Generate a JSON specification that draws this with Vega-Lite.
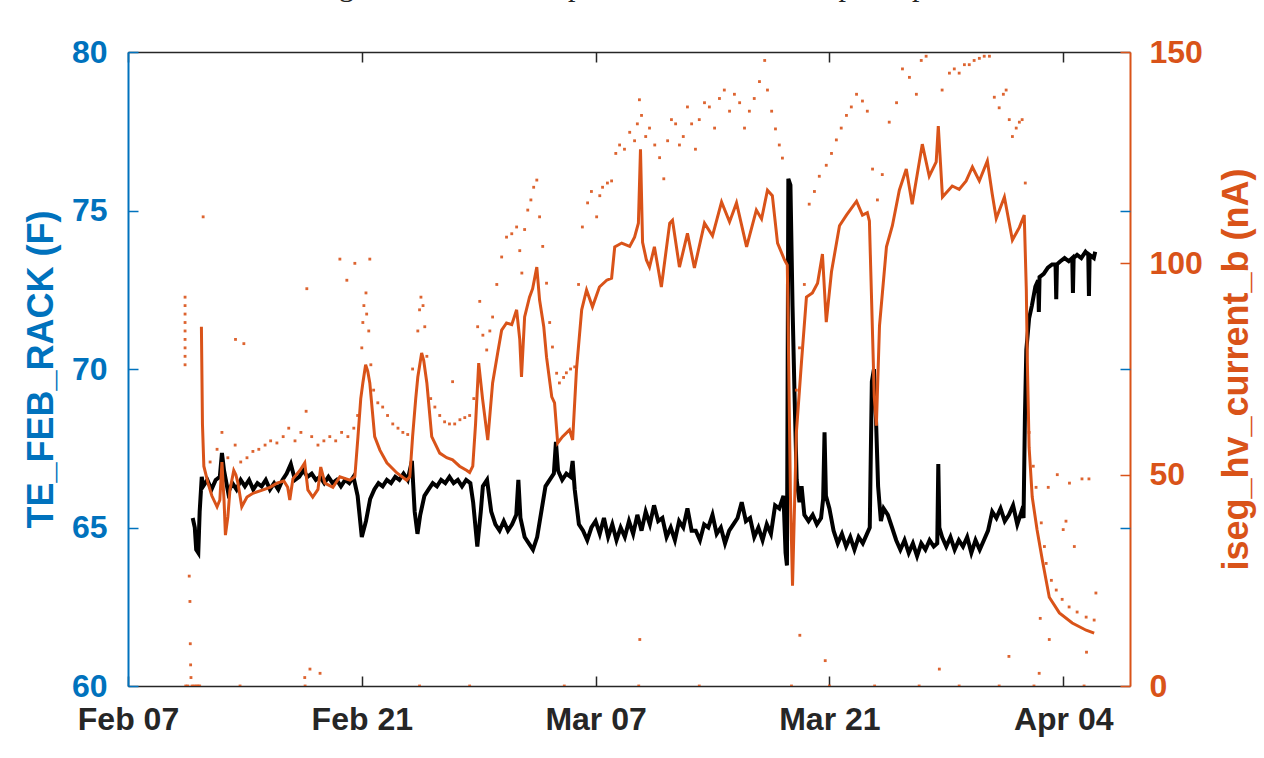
{
"$schema": "https://vega.github.io/schema/vega-lite/v6.json",
"width": 1002,
"height": 634,
"autosize": "none",
"padding": {"left": 128, "top": 52, "right": 134, "bottom": 72},
"background": "white",
"title": {"text": "Figure 1.5: FEB Temperature and Current up to April 5", "font": "Liberation Serif", "fontSize": 30, "fontWeight": "normal", "color": "#222222", "anchor": "middle", "frame": "group", "offset": 10, "baseline": "alphabetic", "dx": 16},
"config": {
  "view": {"stroke": null},
  "axis": {"labelFont": "Liberation Sans", "titleFont": "Liberation Sans", "labelFontSize": 32, "labelFontWeight": "bold", "titleFontSize": 36, "titleFontWeight": "bold", "grid": false, "domainWidth": 1.5, "tickWidth": 1.5, "zindex": 1, "labelFlush": false, "labelOverlap": false, "labelBound": false}
},
"datasets": {
"temp": [
{"t":"2022-02-10T21:00","v":65.3},{"t":"2022-02-11T00:00","v":65.0},{"t":"2022-02-11T02:00","v":64.3},{"t":"2022-02-11T05:00","v":64.2},{"t":"2022-02-11T07:00","v":65.5},{"t":"2022-02-11T10:00","v":66.6},{"t":"2022-02-11T12:00","v":66.3},{"t":"2022-02-11T18:00","v":66.5},
{"t":"2022-02-12T00:00","v":66.2},{"t":"2022-02-12T06:00","v":66.5},{"t":"2022-02-12T12:00","v":66.6},{"t":"2022-02-12T15:00","v":67.35},{"t":"2022-02-12T18:00","v":66.8},
{"t":"2022-02-13T00:00","v":66.1},{"t":"2022-02-13T06:00","v":66.4},{"t":"2022-02-13T12:00","v":66.2},{"t":"2022-02-13T18:00","v":66.5},
{"t":"2022-02-14T00:00","v":66.3},{"t":"2022-02-14T06:00","v":66.5},{"t":"2022-02-14T12:00","v":66.2},{"t":"2022-02-14T18:00","v":66.4},
{"t":"2022-02-15T00:00","v":66.3},{"t":"2022-02-15T06:00","v":66.5},{"t":"2022-02-15T12:00","v":66.2},{"t":"2022-02-15T18:00","v":66.4},
{"t":"2022-02-16T00:00","v":66.2},{"t":"2022-02-16T06:00","v":66.5},{"t":"2022-02-16T12:00","v":66.7},{"t":"2022-02-16T18:00","v":67.0},
{"t":"2022-02-17T00:00","v":66.5},{"t":"2022-02-17T06:00","v":66.6},{"t":"2022-02-17T12:00","v":66.8},{"t":"2022-02-17T18:00","v":66.6},
{"t":"2022-02-18T00:00","v":66.7},{"t":"2022-02-18T06:00","v":66.5},{"t":"2022-02-18T12:00","v":66.6},{"t":"2022-02-18T18:00","v":66.4},
{"t":"2022-02-19T00:00","v":66.6},{"t":"2022-02-19T06:00","v":66.4},{"t":"2022-02-19T12:00","v":66.5},{"t":"2022-02-19T18:00","v":66.3},
{"t":"2022-02-20T00:00","v":66.5},{"t":"2022-02-20T06:00","v":66.4},{"t":"2022-02-20T12:00","v":66.6},{"t":"2022-02-20T18:00","v":66.0},
{"t":"2022-02-21T00:00","v":64.7},{"t":"2022-02-21T06:00","v":65.2},{"t":"2022-02-21T12:00","v":65.9},{"t":"2022-02-21T18:00","v":66.2},
{"t":"2022-02-22T00:00","v":66.4},{"t":"2022-02-22T06:00","v":66.3},{"t":"2022-02-22T12:00","v":66.5},{"t":"2022-02-22T18:00","v":66.4},
{"t":"2022-02-23T00:00","v":66.6},{"t":"2022-02-23T06:00","v":66.5},{"t":"2022-02-23T12:00","v":66.7},{"t":"2022-02-23T18:00","v":66.5},
{"t":"2022-02-24T00:00","v":67.1},{"t":"2022-02-24T04:00","v":65.5},{"t":"2022-02-24T08:00","v":64.8},{"t":"2022-02-24T12:00","v":65.4},{"t":"2022-02-24T18:00","v":66.0},
{"t":"2022-02-25T00:00","v":66.2},{"t":"2022-02-25T06:00","v":66.4},{"t":"2022-02-25T12:00","v":66.3},{"t":"2022-02-25T18:00","v":66.5},
{"t":"2022-02-26T00:00","v":66.4},{"t":"2022-02-26T06:00","v":66.6},{"t":"2022-02-26T12:00","v":66.4},{"t":"2022-02-26T18:00","v":66.5},
{"t":"2022-02-27T00:00","v":66.3},{"t":"2022-02-27T06:00","v":66.5},{"t":"2022-02-27T12:00","v":66.4},{"t":"2022-02-27T16:00","v":65.8},{"t":"2022-02-27T22:00","v":64.4},
{"t":"2022-02-28T03:00","v":65.5},{"t":"2022-02-28T06:00","v":66.3},{"t":"2022-02-28T12:00","v":66.5},{"t":"2022-02-28T18:00","v":65.5},
{"t":"2022-03-01T00:00","v":65.1},{"t":"2022-03-01T06:00","v":64.9},{"t":"2022-03-01T12:00","v":65.2},{"t":"2022-03-01T18:00","v":64.9},
{"t":"2022-03-02T00:00","v":65.1},{"t":"2022-03-02T06:00","v":65.4},{"t":"2022-03-02T09:00","v":66.5},{"t":"2022-03-02T12:00","v":65.3},{"t":"2022-03-02T18:00","v":64.7},
{"t":"2022-03-03T00:00","v":64.5},{"t":"2022-03-03T06:00","v":64.3},{"t":"2022-03-03T12:00","v":64.7},{"t":"2022-03-03T18:00","v":65.5},
{"t":"2022-03-04T00:00","v":66.3},{"t":"2022-03-04T06:00","v":66.5},{"t":"2022-03-04T12:00","v":66.7},{"t":"2022-03-04T15:00","v":67.7},{"t":"2022-03-04T18:00","v":66.8},
{"t":"2022-03-05T00:00","v":66.5},{"t":"2022-03-05T06:00","v":66.7},{"t":"2022-03-05T12:00","v":66.6},{"t":"2022-03-05T15:00","v":67.1},{"t":"2022-03-05T18:00","v":66.2},
{"t":"2022-03-06T00:00","v":65.1},{"t":"2022-03-06T06:00","v":64.9},{"t":"2022-03-06T12:00","v":64.6},{"t":"2022-03-06T18:00","v":65.0},
{"t":"2022-03-07T00:00","v":65.2},{"t":"2022-03-07T06:00","v":64.8},{"t":"2022-03-07T12:00","v":65.3},{"t":"2022-03-07T18:00","v":64.7},
{"t":"2022-03-08T00:00","v":65.1},{"t":"2022-03-08T06:00","v":64.6},{"t":"2022-03-08T12:00","v":65.0},{"t":"2022-03-08T18:00","v":64.7},
{"t":"2022-03-09T00:00","v":65.2},{"t":"2022-03-09T06:00","v":64.8},{"t":"2022-03-09T12:00","v":65.4},{"t":"2022-03-09T18:00","v":64.9},
{"t":"2022-03-10T00:00","v":65.5},{"t":"2022-03-10T06:00","v":65.1},{"t":"2022-03-10T12:00","v":65.7},{"t":"2022-03-10T18:00","v":65.2},
{"t":"2022-03-11T00:00","v":65.3},{"t":"2022-03-11T06:00","v":64.7},{"t":"2022-03-11T12:00","v":65.0},{"t":"2022-03-11T18:00","v":64.6},
{"t":"2022-03-12T00:00","v":65.2},{"t":"2022-03-12T06:00","v":65.0},{"t":"2022-03-12T12:00","v":65.6},{"t":"2022-03-12T18:00","v":64.9},
{"t":"2022-03-13T00:00","v":64.9},{"t":"2022-03-13T06:00","v":64.6},{"t":"2022-03-13T12:00","v":65.1},{"t":"2022-03-13T18:00","v":65.0},
{"t":"2022-03-14T00:00","v":65.4},{"t":"2022-03-14T06:00","v":64.8},{"t":"2022-03-14T12:00","v":65.0},{"t":"2022-03-14T18:00","v":64.5},
{"t":"2022-03-15T00:00","v":64.9},{"t":"2022-03-15T06:00","v":65.1},{"t":"2022-03-15T12:00","v":65.3},{"t":"2022-03-15T18:00","v":65.8},
{"t":"2022-03-16T00:00","v":65.2},{"t":"2022-03-16T06:00","v":65.3},{"t":"2022-03-16T12:00","v":64.7},{"t":"2022-03-16T18:00","v":65.0},
{"t":"2022-03-17T00:00","v":64.6},{"t":"2022-03-17T06:00","v":65.1},{"t":"2022-03-17T12:00","v":64.8},{"t":"2022-03-17T18:00","v":65.7},
{"t":"2022-03-18T00:00","v":65.6},{"t":"2022-03-18T06:00","v":66.0},{"t":"2022-03-18T09:00","v":64.2},{"t":"2022-03-18T11:00","v":63.8},{"t":"2022-03-18T13:00","v":76.0},{"t":"2022-03-18T16:00","v":75.8},{"t":"2022-03-18T19:00","v":72.0},{"t":"2022-03-18T22:00","v":69.1},
{"t":"2022-03-19T01:00","v":66.5},{"t":"2022-03-19T05:00","v":65.8},{"t":"2022-03-19T08:00","v":66.3},{"t":"2022-03-19T12:00","v":65.4},{"t":"2022-03-19T18:00","v":65.2},
{"t":"2022-03-20T00:00","v":65.4},{"t":"2022-03-20T06:00","v":65.1},{"t":"2022-03-20T12:00","v":65.3},{"t":"2022-03-20T15:00","v":65.9},{"t":"2022-03-20T17:00","v":68.0},{"t":"2022-03-20T19:00","v":66.0},
{"t":"2022-03-21T00:00","v":65.6},{"t":"2022-03-21T06:00","v":64.9},{"t":"2022-03-21T12:00","v":64.5},{"t":"2022-03-21T18:00","v":64.8},
{"t":"2022-03-22T00:00","v":64.4},{"t":"2022-03-22T06:00","v":64.7},{"t":"2022-03-22T12:00","v":64.3},{"t":"2022-03-22T18:00","v":64.7},
{"t":"2022-03-23T00:00","v":64.5},{"t":"2022-03-23T06:00","v":64.8},{"t":"2022-03-23T10:00","v":65.0},{"t":"2022-03-23T13:00","v":69.6},{"t":"2022-03-23T16:00","v":70.0},{"t":"2022-03-23T19:00","v":68.4},{"t":"2022-03-23T22:00","v":66.3},
{"t":"2022-03-24T02:00","v":65.2},{"t":"2022-03-24T06:00","v":65.6},{"t":"2022-03-24T12:00","v":65.4},{"t":"2022-03-24T18:00","v":65.0},
{"t":"2022-03-25T00:00","v":64.6},{"t":"2022-03-25T06:00","v":64.3},{"t":"2022-03-25T12:00","v":64.6},{"t":"2022-03-25T18:00","v":64.2},
{"t":"2022-03-26T00:00","v":64.5},{"t":"2022-03-26T06:00","v":64.1},{"t":"2022-03-26T12:00","v":64.5},{"t":"2022-03-26T18:00","v":64.3},
{"t":"2022-03-27T00:00","v":64.6},{"t":"2022-03-27T06:00","v":64.4},{"t":"2022-03-27T11:00","v":64.5},{"t":"2022-03-27T12:30","v":67.0},{"t":"2022-03-27T14:00","v":65.0},{"t":"2022-03-27T18:00","v":64.7},
{"t":"2022-03-28T00:00","v":64.4},{"t":"2022-03-28T06:00","v":64.7},{"t":"2022-03-28T12:00","v":64.3},{"t":"2022-03-28T18:00","v":64.6},
{"t":"2022-03-29T00:00","v":64.4},{"t":"2022-03-29T06:00","v":64.7},{"t":"2022-03-29T12:00","v":64.2},{"t":"2022-03-29T18:00","v":64.6},
{"t":"2022-03-30T00:00","v":64.3},{"t":"2022-03-30T06:00","v":64.6},{"t":"2022-03-30T12:00","v":64.9},{"t":"2022-03-30T18:00","v":65.5},
{"t":"2022-03-31T00:00","v":65.3},{"t":"2022-03-31T06:00","v":65.6},{"t":"2022-03-31T12:00","v":65.2},{"t":"2022-03-31T18:00","v":65.4},
{"t":"2022-04-01T00:00","v":65.7},{"t":"2022-04-01T06:00","v":65.1},{"t":"2022-04-01T12:00","v":65.5},{"t":"2022-04-01T15:00","v":65.3},{"t":"2022-04-01T17:00","v":68.5},{"t":"2022-04-01T19:00","v":70.6},{"t":"2022-04-01T23:00","v":71.6},
{"t":"2022-04-02T03:00","v":72.0},{"t":"2022-04-02T08:00","v":72.6},{"t":"2022-04-02T12:00","v":72.8},{"t":"2022-04-02T13:00","v":71.8},{"t":"2022-04-02T14:00","v":72.9},{"t":"2022-04-02T20:00","v":73.0},
{"t":"2022-04-03T02:00","v":73.2},{"t":"2022-04-03T08:00","v":73.3},{"t":"2022-04-03T13:00","v":73.3},{"t":"2022-04-03T14:00","v":72.2},{"t":"2022-04-03T15:00","v":73.3},{"t":"2022-04-03T20:00","v":73.4},
{"t":"2022-04-04T02:00","v":73.5},{"t":"2022-04-04T08:00","v":73.4},{"t":"2022-04-04T13:00","v":73.5},{"t":"2022-04-04T14:00","v":72.4},{"t":"2022-04-04T15:00","v":73.5},{"t":"2022-04-04T20:00","v":73.6},
{"t":"2022-04-05T02:00","v":73.5},{"t":"2022-04-05T08:00","v":73.7},{"t":"2022-04-05T12:00","v":73.6},{"t":"2022-04-05T13:00","v":72.3},{"t":"2022-04-05T14:00","v":73.6},{"t":"2022-04-05T20:00","v":73.5},{"t":"2022-04-05T22:00","v":73.7}
],
"cur": [
{"t":"2022-02-11T09:30","i":85},{"t":"2022-02-11T11:00","i":62},{"t":"2022-02-11T13:00","i":52},{"t":"2022-02-11T16:00","i":50},{"t":"2022-02-11T19:00","i":48},
{"t":"2022-02-12T00:30","i":45},{"t":"2022-02-12T08:00","i":42.4},{"t":"2022-02-12T12:00","i":44},{"t":"2022-02-12T15:00","i":53},{"t":"2022-02-12T18:00","i":44},{"t":"2022-02-12T20:00","i":35.7},{"t":"2022-02-12T23:30","i":40},
{"t":"2022-02-13T02:30","i":46.4},{"t":"2022-02-13T08:00","i":51},{"t":"2022-02-13T11:00","i":50},{"t":"2022-02-13T14:00","i":48},{"t":"2022-02-13T19:30","i":42.4},
{"t":"2022-02-14T03:00","i":44.7},{"t":"2022-02-14T11:30","i":45.6},{"t":"2022-02-15T02:00","i":46.4},{"t":"2022-02-15T12:00","i":47},{"t":"2022-02-15T22:00","i":48},
{"t":"2022-02-16T08:00","i":48.5},{"t":"2022-02-16T13:30","i":47},{"t":"2022-02-16T16:30","i":44},{"t":"2022-02-16T21:00","i":49},
{"t":"2022-02-17T07:00","i":51},{"t":"2022-02-17T14:00","i":52.8},{"t":"2022-02-17T18:30","i":46.4},
{"t":"2022-02-18T01:30","i":44.7},{"t":"2022-02-18T09:00","i":46.5},{"t":"2022-02-18T13:00","i":51.8},{"t":"2022-02-18T19:00","i":48},
{"t":"2022-02-19T06:30","i":47},{"t":"2022-02-19T16:30","i":49.5},{"t":"2022-02-20T07:00","i":48.7},{"t":"2022-02-20T14:00","i":49.5},{"t":"2022-02-20T18:30","i":59},{"t":"2022-02-20T22:30","i":68},
{"t":"2022-02-21T01:30","i":71.7},{"t":"2022-02-21T05:30","i":76},{"t":"2022-02-21T08:30","i":74.5},{"t":"2022-02-21T11:30","i":71.7},{"t":"2022-02-21T18:30","i":59},
{"t":"2022-02-22T02:00","i":55.8},{"t":"2022-02-22T12:00","i":52.8},{"t":"2022-02-23T02:30","i":50.4},{"t":"2022-02-23T16:30","i":48.7},{"t":"2022-02-23T21:00","i":49.5},
{"t":"2022-02-24T01:00","i":59},{"t":"2022-02-24T05:30","i":68},{"t":"2022-02-24T08:30","i":73.1},{"t":"2022-02-24T14:00","i":78.8},{"t":"2022-02-24T17:00","i":77},{"t":"2022-02-24T21:30","i":71.7},
{"t":"2022-02-25T04:30","i":59},{"t":"2022-02-25T16:00","i":55.1},{"t":"2022-02-26T02:00","i":54},{"t":"2022-02-26T10:30","i":53.5},{"t":"2022-02-26T20:30","i":52},
{"t":"2022-02-27T07:00","i":51},{"t":"2022-02-27T11:00","i":50.5},{"t":"2022-02-27T15:30","i":52},{"t":"2022-02-27T19:30","i":62},
{"t":"2022-02-28T00:00","i":76.4},{"t":"2022-02-28T05:30","i":68},{"t":"2022-02-28T13:00","i":58.2},{"t":"2022-02-28T20:00","i":71.7},
{"t":"2022-03-01T03:30","i":79},{"t":"2022-03-01T09:00","i":84.2},{"t":"2022-03-01T16:00","i":85.9},{"t":"2022-03-01T23:30","i":85.5},
{"t":"2022-03-02T06:30","i":89},{"t":"2022-03-02T11:00","i":82},{"t":"2022-03-02T13:30","i":73.1},{"t":"2022-03-02T18:00","i":87.3},
{"t":"2022-03-03T01:00","i":92},{"t":"2022-03-03T05:30","i":94},{"t":"2022-03-03T11:30","i":99.1},{"t":"2022-03-03T15:30","i":91.3},{"t":"2022-03-03T21:30","i":85},
{"t":"2022-03-04T01:30","i":77.8},{"t":"2022-03-04T09:00","i":68.4},{"t":"2022-03-04T13:00","i":67},{"t":"2022-03-04T17:30","i":57.5},
{"t":"2022-03-05T00:30","i":59},{"t":"2022-03-05T10:30","i":60.6},{"t":"2022-03-05T15:00","i":58.2},{"t":"2022-03-05T20:30","i":74.8},
{"t":"2022-03-06T04:00","i":89},{"t":"2022-03-06T11:00","i":93.7},{"t":"2022-03-06T19:30","i":89.7},
{"t":"2022-03-07T05:30","i":94.4},{"t":"2022-03-07T16:00","i":96},{"t":"2022-03-07T23:00","i":96.5},
{"t":"2022-03-08T03:30","i":103.9},{"t":"2022-03-08T13:30","i":104.8},
{"t":"2022-03-09T01:00","i":104},{"t":"2022-03-09T08:00","i":106.2},{"t":"2022-03-09T13:30","i":109.5},{"t":"2022-03-09T16:30","i":127},{"t":"2022-03-09T19:30","i":105},
{"t":"2022-03-10T01:00","i":100.8},{"t":"2022-03-10T05:30","i":99.1},{"t":"2022-03-10T12:30","i":103.9},{"t":"2022-03-10T22:30","i":94.4},
{"t":"2022-03-11T10:30","i":109.5},{"t":"2022-03-11T14:30","i":110.2},{"t":"2022-03-12T00:30","i":99.1},{"t":"2022-03-12T12:00","i":107.1},{"t":"2022-03-12T22:00","i":98.9},
{"t":"2022-03-13T12:30","i":109.5},{"t":"2022-03-14T00:00","i":106.5},{"t":"2022-03-14T13:00","i":114.5},{"t":"2022-03-15T00:30","i":109.8},{"t":"2022-03-15T10:30","i":114.3},
{"t":"2022-03-16T01:00","i":103.9},{"t":"2022-03-16T15:00","i":112.6},{"t":"2022-03-16T22:30","i":110.5},{"t":"2022-03-17T07:00","i":117.3},{"t":"2022-03-17T14:00","i":116},{"t":"2022-03-17T21:30","i":104.8},
{"t":"2022-03-18T07:30","i":100.8},{"t":"2022-03-18T11:30","i":99.6},{"t":"2022-03-18T14:00","i":70},{"t":"2022-03-18T16:00","i":45},{"t":"2022-03-18T19:00","i":23.7},{"t":"2022-03-18T21:30","i":40},
{"t":"2022-03-19T00:30","i":59.9},{"t":"2022-03-19T08:00","i":76.9},{"t":"2022-03-19T15:00","i":92},{"t":"2022-03-19T23:30","i":93},
{"t":"2022-03-20T07:00","i":95.3},{"t":"2022-03-20T14:00","i":102.2},{"t":"2022-03-20T19:30","i":86.1},
{"t":"2022-03-21T03:00","i":98},{"t":"2022-03-21T14:30","i":108.9},{"t":"2022-03-22T00:30","i":111.4},{"t":"2022-03-22T15:00","i":114.7},{"t":"2022-03-22T23:30","i":111.4},
{"t":"2022-03-23T06:30","i":112},{"t":"2022-03-23T09:30","i":110},{"t":"2022-03-23T11:30","i":98},{"t":"2022-03-23T16:30","i":68.4},{"t":"2022-03-23T19:30","i":61.6},
{"t":"2022-03-24T00:00","i":85.2},{"t":"2022-03-24T10:00","i":103.9},{"t":"2022-03-24T18:30","i":108.9},
{"t":"2022-03-25T04:30","i":117.3},{"t":"2022-03-25T14:30","i":122.3},{"t":"2022-03-25T23:00","i":114},
{"t":"2022-03-26T13:30","i":128.2},{"t":"2022-03-26T23:30","i":120.6},{"t":"2022-03-27T09:30","i":124},{"t":"2022-03-27T12:30","i":132.5},{"t":"2022-03-27T18:30","i":115.7},
{"t":"2022-03-28T08:30","i":118.3},{"t":"2022-03-28T18:30","i":117.5},{"t":"2022-03-29T04:30","i":119.5},{"t":"2022-03-29T13:30","i":122.8},{"t":"2022-03-29T23:30","i":119.5},
{"t":"2022-03-30T11:00","i":124.2},{"t":"2022-03-30T18:00","i":116.4},{"t":"2022-03-30T23:45","i":110.6},{"t":"2022-03-31T11:30","i":115.7},{"t":"2022-03-31T23:00","i":105.5},
{"t":"2022-04-01T09:00","i":108.5},{"t":"2022-04-01T16:00","i":111.4},{"t":"2022-04-01T19:00","i":93.7},{"t":"2022-04-01T20:30","i":76.4},{"t":"2022-04-01T23:00","i":56.5},
{"t":"2022-04-02T03:30","i":44.7},{"t":"2022-04-02T10:30","i":36.9},{"t":"2022-04-02T18:00","i":29.8},{"t":"2022-04-03T04:00","i":21},{"t":"2022-04-03T18:30","i":17.3},
{"t":"2022-04-04T13:00","i":14.9},{"t":"2022-04-05T09:00","i":13.2},{"t":"2022-04-05T20:30","i":12.5}
],
"dots": [
{"t":"2022-02-10T10:00","i":76},{"t":"2022-02-10T10:00","i":78},{"t":"2022-02-10T10:00","i":80},{"t":"2022-02-10T10:00","i":82},{"t":"2022-02-10T10:00","i":84},{"t":"2022-02-10T10:00","i":86},{"t":"2022-02-10T10:00","i":88},{"t":"2022-02-10T10:00","i":90},{"t":"2022-02-10T10:00","i":92},
{"t":"2022-02-10T11:00","i":0},{"t":"2022-02-10T14:00","i":0},{"t":"2022-02-10T16:00","i":26},{"t":"2022-02-10T17:00","i":20},{"t":"2022-02-10T17:30","i":10},{"t":"2022-02-10T18:00","i":5},{"t":"2022-02-10T18:30","i":2},{"t":"2022-02-10T20:00","i":0},{"t":"2022-02-10T23:00","i":0},
{"t":"2022-02-11T02:00","i":0},{"t":"2022-02-11T04:30","i":0},{"t":"2022-02-11T07:00","i":0},{"t":"2022-02-11T12:00","i":111},
{"t":"2022-02-11T22:00","i":53},{"t":"2022-02-12T08:00","i":56},{"t":"2022-02-12T15:00","i":60},{"t":"2022-02-12T23:30","i":54},{"t":"2022-02-13T10:00","i":57},{"t":"2022-02-13T18:00","i":53},
{"t":"2022-02-14T03:00","i":54},{"t":"2022-02-14T11:30","i":55.5},{"t":"2022-02-14T20:00","i":56},{"t":"2022-02-15T05:00","i":57},{"t":"2022-02-15T13:00","i":58},{"t":"2022-02-15T22:00","i":57.5},
{"t":"2022-02-16T07:00","i":59},{"t":"2022-02-16T15:00","i":61},{"t":"2022-02-17T00:00","i":58},{"t":"2022-02-17T08:30","i":60},{"t":"2022-02-17T16:00","i":65},
{"t":"2022-02-18T00:00","i":59},{"t":"2022-02-18T09:00","i":57},{"t":"2022-02-18T17:30","i":58},{"t":"2022-02-19T02:00","i":59},{"t":"2022-02-19T10:30","i":58},{"t":"2022-02-19T19:00","i":60},
{"t":"2022-02-20T04:00","i":59},{"t":"2022-02-20T12:30","i":61},{"t":"2022-02-20T18:00","i":64},
{"t":"2022-02-21T00:00","i":80},{"t":"2022-02-21T01:30","i":86},{"t":"2022-02-21T03:00","i":90},{"t":"2022-02-21T06:00","i":93},{"t":"2022-02-21T07:00","i":88},{"t":"2022-02-21T10:00","i":84},{"t":"2022-02-21T13:00","i":76},{"t":"2022-02-21T17:00","i":70},{"t":"2022-02-21T23:00","i":67},
{"t":"2022-02-22T06:00","i":66},{"t":"2022-02-22T13:00","i":64},{"t":"2022-02-22T20:30","i":62},{"t":"2022-02-23T04:00","i":61},{"t":"2022-02-23T11:00","i":60},{"t":"2022-02-23T18:00","i":59.5},
{"t":"2022-02-24T01:00","i":75},{"t":"2022-02-24T08:30","i":84},{"t":"2022-02-24T11:00","i":89},{"t":"2022-02-24T13:00","i":92},{"t":"2022-02-24T16:00","i":90},{"t":"2022-02-24T18:30","i":85},{"t":"2022-02-24T21:30","i":78},
{"t":"2022-02-25T03:00","i":68},{"t":"2022-02-25T09:00","i":66},{"t":"2022-02-25T16:00","i":64},{"t":"2022-02-25T23:00","i":62.5},{"t":"2022-02-26T06:00","i":62},{"t":"2022-02-26T13:30","i":62},{"t":"2022-02-26T21:00","i":63},
{"t":"2022-02-27T04:00","i":63.5},{"t":"2022-02-27T11:00","i":64},{"t":"2022-02-27T17:00","i":68},{"t":"2022-02-27T22:30","i":85},
{"t":"2022-02-28T01:30","i":91},{"t":"2022-02-28T06:00","i":83},{"t":"2022-02-28T11:30","i":79.5},{"t":"2022-02-28T16:00","i":84},{"t":"2022-02-28T20:00","i":87.3},
{"t":"2022-03-01T02:00","i":95},{"t":"2022-03-01T09:00","i":101.5},{"t":"2022-03-01T16:00","i":106.2},{"t":"2022-03-01T23:30","i":107},
{"t":"2022-03-02T06:30","i":108.6},{"t":"2022-03-02T11:00","i":103},{"t":"2022-03-02T14:00","i":97.7},{"t":"2022-03-02T18:00","i":108},{"t":"2022-03-02T22:30","i":112.6},
{"t":"2022-03-03T03:00","i":115},{"t":"2022-03-03T07:00","i":118},{"t":"2022-03-03T11:30","i":119.7},{"t":"2022-03-03T15:30","i":111},{"t":"2022-03-03T20:00","i":104},
{"t":"2022-03-04T01:30","i":95.3},{"t":"2022-03-04T06:00","i":86},{"t":"2022-03-04T10:00","i":80.2},{"t":"2022-03-04T16:00","i":74},{"t":"2022-03-04T20:00","i":71.7},
{"t":"2022-03-05T02:00","i":73},{"t":"2022-03-05T06:00","i":74.1},{"t":"2022-03-05T12:00","i":75},{"t":"2022-03-05T18:00","i":75.5},{"t":"2022-03-05T23:30","i":95},
{"t":"2022-03-06T05:00","i":108.6},{"t":"2022-03-06T12:30","i":114.3},{"t":"2022-03-06T18:00","i":117},
{"t":"2022-03-07T01:30","i":111},{"t":"2022-03-07T06:00","i":116},{"t":"2022-03-07T10:00","i":118},{"t":"2022-03-07T17:00","i":119},{"t":"2022-03-07T23:00","i":119.5},
{"t":"2022-03-08T05:00","i":126},{"t":"2022-03-08T10:30","i":128},{"t":"2022-03-08T17:30","i":127},
{"t":"2022-03-09T01:00","i":131},{"t":"2022-03-09T08:00","i":129},{"t":"2022-03-09T12:00","i":133},{"t":"2022-03-09T15:00","i":138.7},{"t":"2022-03-09T18:00","i":135},
{"t":"2022-03-10T00:00","i":130},{"t":"2022-03-10T05:30","i":132},{"t":"2022-03-10T13:00","i":128},{"t":"2022-03-10T20:00","i":125},
{"t":"2022-03-11T02:00","i":120},{"t":"2022-03-11T07:30","i":129},{"t":"2022-03-11T13:00","i":134},{"t":"2022-03-11T19:00","i":133},
{"t":"2022-03-12T00:30","i":128},{"t":"2022-03-12T06:00","i":130},{"t":"2022-03-12T12:00","i":137},{"t":"2022-03-12T18:00","i":133},{"t":"2022-03-12T23:30","i":127},
{"t":"2022-03-13T05:00","i":134},{"t":"2022-03-13T12:30","i":138},{"t":"2022-03-13T19:30","i":137},
{"t":"2022-03-14T03:00","i":132},{"t":"2022-03-14T10:00","i":139},{"t":"2022-03-14T17:00","i":141},
{"t":"2022-03-15T00:30","i":136},{"t":"2022-03-15T07:30","i":140},{"t":"2022-03-15T15:00","i":138},{"t":"2022-03-15T22:00","i":132},
{"t":"2022-03-16T05:00","i":136},{"t":"2022-03-16T12:00","i":139},{"t":"2022-03-16T19:30","i":143},
{"t":"2022-03-17T03:00","i":148},{"t":"2022-03-17T07:00","i":141},{"t":"2022-03-17T13:00","i":136},{"t":"2022-03-17T18:30","i":131.8},
{"t":"2022-03-18T00:00","i":128},{"t":"2022-03-18T04:30","i":124.9},
{"t":"2022-03-19T00:30","i":70},{"t":"2022-03-19T05:00","i":80},{"t":"2022-03-19T12:00","i":95},{"t":"2022-03-19T19:00","i":114},
{"t":"2022-03-20T02:30","i":117},{"t":"2022-03-20T09:30","i":120.6},{"t":"2022-03-20T19:30","i":123.2},
{"t":"2022-03-21T03:00","i":126},{"t":"2022-03-21T10:00","i":129.2},{"t":"2022-03-21T17:00","i":132},
{"t":"2022-03-22T00:30","i":135},{"t":"2022-03-22T07:30","i":137},{"t":"2022-03-22T15:00","i":140},{"t":"2022-03-22T23:30","i":138.4},
{"t":"2022-03-23T06:30","i":136},{"t":"2022-03-23T14:00","i":122.3},{"t":"2022-03-23T21:00","i":115},
{"t":"2022-03-24T04:00","i":121},{"t":"2022-03-24T14:00","i":133.4},{"t":"2022-03-25T00:30","i":138},{"t":"2022-03-25T09:00","i":146},{"t":"2022-03-25T19:00","i":144},
{"t":"2022-03-26T05:00","i":140},{"t":"2022-03-26T12:00","i":148},{"t":"2022-03-26T19:00","i":149},
{"t":"2022-03-27T18:00","i":141},{"t":"2022-03-28T04:30","i":145},{"t":"2022-03-28T11:30","i":146},{"t":"2022-03-28T18:30","i":145},
{"t":"2022-03-29T02:00","i":147},{"t":"2022-03-29T09:00","i":147},{"t":"2022-03-29T16:00","i":148},{"t":"2022-03-29T23:30","i":148.5},
{"t":"2022-03-30T06:30","i":149},{"t":"2022-03-30T14:00","i":149},{"t":"2022-03-30T21:00","i":139.3},
{"t":"2022-03-31T04:00","i":136.8},{"t":"2022-03-31T10:00","i":140},{"t":"2022-03-31T14:00","i":141},{"t":"2022-03-31T18:30","i":134},{"t":"2022-03-31T23:00","i":130},
{"t":"2022-04-01T04:30","i":132},{"t":"2022-04-01T09:00","i":133.4},{"t":"2022-04-01T13:00","i":134},{"t":"2022-04-01T17:30","i":119},
{"t":"2022-04-01T23:00","i":60},{"t":"2022-04-02T05:00","i":52},{"t":"2022-04-02T09:00","i":47},{"t":"2022-04-02T16:30","i":38.6},{"t":"2022-04-02T23:30","i":29},
{"t":"2022-04-03T07:00","i":25},{"t":"2022-04-03T14:00","i":22.7},{"t":"2022-04-03T22:30","i":20.5},{"t":"2022-04-04T08:30","i":18.7},{"t":"2022-04-04T20:00","i":17.5},
{"t":"2022-04-05T09:00","i":16.3},{"t":"2022-04-05T20:30","i":15.6},
{"t":"2022-04-03T02:30","i":47},{"t":"2022-04-03T15:30","i":50},{"t":"2022-04-04T09:00","i":48},{"t":"2022-04-05T03:00","i":49},{"t":"2022-04-05T13:00","i":49},
{"t":"2022-04-04T00:00","i":37},{"t":"2022-04-02T21:00","i":33},{"t":"2022-04-04T16:00","i":33},{"t":"2022-04-02T15:00","i":16},{"t":"2022-04-03T04:00","i":11},
{"t":"2022-04-05T09:30","i":8},{"t":"2022-04-05T23:00","i":22},{"t":"2022-04-04T04:00","i":39},{"t":"2022-04-02T13:30","i":3},
{"t":"2022-02-17T17:00","i":94},{"t":"2022-02-19T16:30","i":101},{"t":"2022-02-20T14:00","i":100},{"t":"2022-02-21T11:30","i":101},{"t":"2022-02-20T02:30","i":96},
{"t":"2022-02-13T10:30","i":82},{"t":"2022-02-13T22:30","i":81},{"t":"2022-02-26T10:30","i":72},{"t":"2022-03-09T15:30","i":11},
{"t":"2022-02-18T12:00","i":3},{"t":"2022-02-17T14:00","i":2},{"t":"2022-02-17T21:30","i":4},{"t":"2022-03-20T18:00","i":6},{"t":"2022-03-19T05:30","i":12},{"t":"2022-03-27T14:00","i":4},{"t":"2022-03-31T18:00","i":7},
{"t":"2022-02-13T17:00","i":0},{"t":"2022-02-17T14:30","i":0},{"t":"2022-02-24T11:00","i":0},{"t":"2022-02-27T11:00","i":0},{"t":"2022-03-05T03:00","i":0},{"t":"2022-03-09T14:00","i":0},
{"t":"2022-03-13T05:00","i":0},{"t":"2022-03-18T17:30","i":0},{"t":"2022-03-21T00:00","i":0},{"t":"2022-03-23T17:00","i":0},{"t":"2022-03-26T09:00","i":0},{"t":"2022-03-28T18:30","i":0},
{"t":"2022-03-31T04:00","i":0},{"t":"2022-04-02T06:00","i":0},{"t":"2022-04-05T06:00","i":0}
]
},
"layer": [
{
  "data": {"name": "temp"},
  "mark": {"type": "line", "color": "#000000", "strokeWidth": 4, "clip": true},
  "encoding": {
    "x": {"field": "t", "type": "temporal",
      "scale": {"domain": [{"year": 2022, "month": 2, "date": 7}, {"year": 2022, "month": 4, "date": 8}]},
      "axis": {"orient": "bottom", "title": null, "format": "%b %d",
        "values": [{"year": 2022, "month": 2, "date": 7}, {"year": 2022, "month": 2, "date": 21}, {"year": 2022, "month": 3, "date": 7}, {"year": 2022, "month": 3, "date": 21}, {"year": 2022, "month": 4, "date": 4}],
        "labelColor": "#262626", "domainColor": "#262626", "tickColor": "#262626", "tickSize": -10, "labelPadding": 28}},
    "y": {"field": "v", "type": "quantitative",
      "scale": {"domain": [60, 80], "nice": false, "zero": false},
      "axis": {"orient": "left", "values": [60, 65, 70, 75, 80], "title": "TE_FEB_RACK (F)",
        "titleColor": "#0072BD", "labelColor": "#0072BD", "domainColor": "#0072BD", "tickColor": "#0072BD", "domainWidth": 2,
        "tickSize": -10, "labelPadding": 31, "titlePadding": 11}}
  }
},
{
  "layer": [
    {
      "data": {"name": "cur"},
      "mark": {"type": "line", "color": "#D95319", "strokeWidth": 3, "clip": true},
      "encoding": {
        "x": {"field": "t", "type": "temporal", "scale": {"domain": [{"year": 2022, "month": 2, "date": 7}, {"year": 2022, "month": 4, "date": 8}]}, "axis": null},
        "y": {"field": "i", "type": "quantitative",
          "scale": {"domain": [0, 150], "nice": false},
          "axis": {"orient": "right", "values": [0, 50, 100, 150], "title": "iseg_hv_current_b (nA)",
            "titleColor": "#D95319", "labelColor": "#D95319", "domainColor": "#D95319", "tickColor": "#D95319", "domainWidth": 2,
            "tickSize": -10, "labelPadding": 29, "titlePadding": 17, "titleAngle": 270, "titleBaseline": "top"}}
      }
    },
    {
      "data": {"name": "dots"},
      "mark": {"type": "square", "color": "#D95319", "size": 8, "opacity": 0.9, "clip": true},
      "encoding": {
        "x": {"field": "t", "type": "temporal", "scale": {"domain": [{"year": 2022, "month": 2, "date": 7}, {"year": 2022, "month": 4, "date": 8}]}, "axis": null},
        "y": {"field": "i", "type": "quantitative",
          "axis": {"orient": "right", "values": [0, 50, 100, 150], "title": "iseg_hv_current_b (nA)",
            "titleColor": "#D95319", "labelColor": "#D95319", "domainColor": "#D95319", "tickColor": "#D95319", "domainWidth": 2,
            "tickSize": -10, "labelPadding": 29, "titlePadding": 17, "titleAngle": 270, "titleBaseline": "top"}}
      }
    }
  ]
},
{
  "data": {"name": "temp"},
  "mark": {"type": "point", "opacity": 0},
  "encoding": {
    "x": {"field": "t", "type": "temporal",
      "scale": {"domain": [{"year": 2022, "month": 2, "date": 7}, {"year": 2022, "month": 4, "date": 8}]},
      "axis": {"orient": "top", "title": null, "labels": false,
        "values": [{"year": 2022, "month": 2, "date": 7}, {"year": 2022, "month": 2, "date": 21}, {"year": 2022, "month": 3, "date": 7}, {"year": 2022, "month": 3, "date": 21}, {"year": 2022, "month": 4, "date": 4}],
        "domainColor": "#262626", "tickColor": "#262626", "tickSize": -10}},
    "y": {"field": "v", "type": "quantitative",
      "scale": {"domain": [60, 80], "nice": false, "zero": false},
      "axis": {"orient": "right", "values": [65, 70, 75], "labels": false, "domain": false, "title": null, "tickColor": "#0072BD", "tickSize": -10}}
  }
}
],
"resolve": {"scale": {"y": "independent"}, "axis": {"x": "independent", "y": "independent"}}
}
